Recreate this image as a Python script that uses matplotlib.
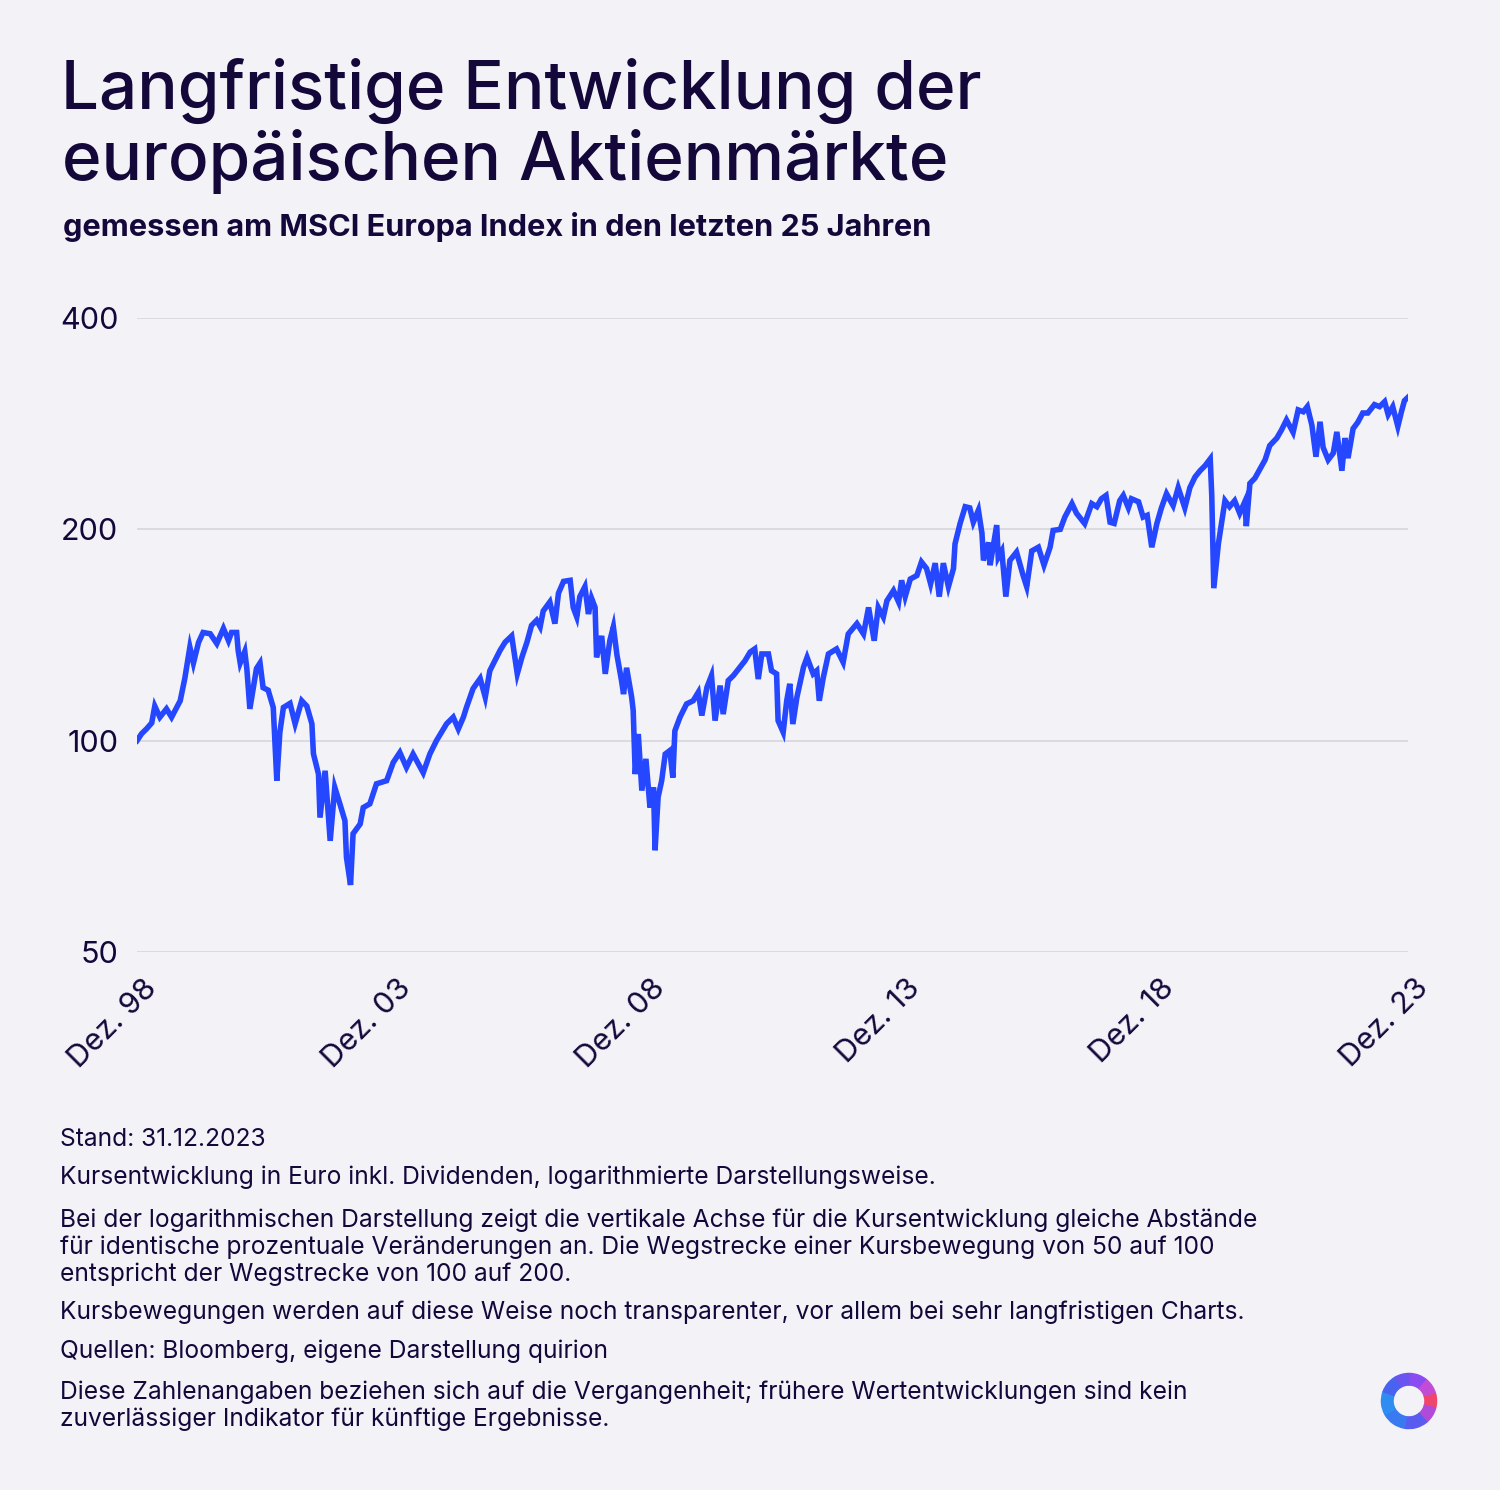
import numpy as np
import matplotlib.pyplot as plt
from matplotlib.patches import Wedge
from matplotlib.ticker import FixedLocator, NullLocator
import matplotlib.transforms as mtransforms

# MSCI Europa (Euro, inkl. Dividenden), Dez. 1998 = 100
years = [1998.92, 1999.01, 1999.11, 1999.21, 1999.27, 1999.37, 1999.50, 1999.60, 1999.77, 1999.86,
         1999.96, 2000.03, 2000.13, 2000.22, 2000.36, 2000.49, 2000.62, 2000.72, 2000.78, 2000.88,
         2000.91, 2000.95, 2001.04, 2001.08, 2001.14, 2001.27, 2001.34, 2001.40, 2001.50, 2001.60,
         2001.67, 2001.73, 2001.80, 2001.93, 2002.03, 2002.16, 2002.26, 2002.36, 2002.39, 2002.49,
         2002.52, 2002.62, 2002.72, 2002.81, 2002.91, 2003.01, 2003.04, 2003.12, 2003.17, 2003.31,
         2003.37, 2003.50, 2003.63, 2003.83, 2003.96, 2004.09, 2004.22, 2004.35, 2004.55, 2004.68,
         2004.81, 2005.01, 2005.14, 2005.24, 2005.34, 2005.40, 2005.53, 2005.67, 2005.77, 2005.86,
         2005.96, 2006.06, 2006.16, 2006.29, 2006.40, 2006.49, 2006.59, 2006.68, 2006.78, 2006.85,
         2006.91, 2007.04, 2007.14, 2007.21, 2007.31, 2007.44, 2007.50, 2007.57, 2007.63, 2007.73,
         2007.80, 2007.86, 2007.93, 2007.96, 2008.06, 2008.13, 2008.22, 2008.29, 2008.36, 2008.45,
         2008.49, 2008.55, 2008.65, 2008.68, 2008.72, 2008.78, 2008.85, 2008.93, 2009.01, 2009.08,
         2009.11, 2009.17, 2009.24, 2009.31, 2009.40, 2009.46, 2009.50, 2009.60, 2009.73, 2009.86,
         2009.96, 2010.03, 2010.13, 2010.22, 2010.29, 2010.39, 2010.45, 2010.55, 2010.65, 2010.78,
         2010.88, 2010.98, 2011.07, 2011.14, 2011.21, 2011.34, 2011.40, 2011.50, 2011.53, 2011.63,
         2011.70, 2011.76, 2011.82, 2011.90, 2012.03, 2012.10, 2012.22, 2012.29, 2012.34, 2012.42,
         2012.52, 2012.68, 2012.81, 2012.91, 2013.08, 2013.21, 2013.31, 2013.42, 2013.50, 2013.60,
         2013.67, 2013.80, 2013.90, 2013.96, 2014.03, 2014.13, 2014.26, 2014.35, 2014.45, 2014.53,
         2014.62, 2014.70, 2014.78, 2014.88, 2014.98, 2015.01, 2015.11, 2015.21, 2015.30, 2015.37,
         2015.47, 2015.54, 2015.57, 2015.67, 2015.70, 2015.83, 2015.86, 2015.93, 2016.01, 2016.09,
         2016.22, 2016.35, 2016.42, 2016.52, 2016.65, 2016.76, 2016.88, 2016.94, 2017.08, 2017.17,
         2017.31, 2017.40, 2017.56, 2017.70, 2017.80, 2017.89, 2017.98, 2018.06, 2018.14, 2018.25,
         2018.32, 2018.42, 2018.48, 2018.62, 2018.71, 2018.79, 2018.88, 2018.98, 2019.07, 2019.17,
         2019.30, 2019.40, 2019.53, 2019.63, 2019.73, 2019.83, 2019.93, 2020.03, 2020.06, 2020.10,
         2020.19, 2020.25, 2020.32, 2020.41, 2020.51, 2020.61, 2020.71, 2020.74, 2020.81, 2020.91,
         2021.01, 2021.11, 2021.20, 2021.34, 2021.43, 2021.53, 2021.66, 2021.76, 2021.86, 2021.94,
         2022.03, 2022.11, 2022.19, 2022.25, 2022.35, 2022.45, 2022.52, 2022.62, 2022.68, 2022.74,
         2022.84, 2022.93, 2023.03, 2023.13, 2023.26, 2023.36, 2023.46, 2023.53, 2023.62, 2023.72,
         2023.79, 2023.85, 2023.92]
index = [100, 102.3, 104, 106, 112, 108, 111, 108, 114, 122.6,
         135.9, 129, 138, 142.6, 142, 137.5, 144.5, 138.8, 142.6, 142.6,
         134.4, 129, 134, 126.7, 111, 126.7, 129, 119, 118, 111.5,
         87.7, 102.8, 111.5, 113, 105.7, 114, 112, 105.7, 95.8, 89.6,
         77.7, 90.6, 72, 85.8, 81.3, 76.9, 68.2, 62.3, 73.7, 76.1,
         80.3, 81.3, 86.8, 87.7, 93.1, 96.2, 91.6, 95.7, 90, 95.7,
         100, 105.7, 108, 103.9, 108, 111.5, 118.6, 122.6, 115.3, 125.8,
         130, 134.4, 138.1, 141, 124.5, 131.4, 138.1, 145.9, 148.4, 145.3,
         153, 157.6, 146.8, 162.2, 168.6, 169.2, 154.8, 150, 160.4, 165.7,
         151.5, 159.6, 154.8, 131.4, 141, 124.5, 138.8, 145.3, 132.5, 121.8,
         116.5, 127, 115.3, 110.4, 89.6, 102.2, 84.9, 94.2, 80.3, 85.8,
         69.8, 83.1, 87.7, 95.7, 96.8, 88.6, 103.3, 108, 112.8, 114,
         117.2, 108.6, 119.1, 123.8, 106.8, 119.8, 109.1, 121.8, 123.8, 127.3,
         130, 133.7, 135.1, 122.4, 132.9, 132.9, 125.8, 124.5, 106.8, 102.8,
         114, 120.5, 105.6, 115.3, 127.3, 131.4, 124.5, 125.8, 114, 123.1,
         132.9, 135.1, 129.3, 141.9, 146.8, 141.9, 154.8, 138.8, 154.8, 150,
         158.2, 163.6, 157.6, 169.2, 160.4, 169.9, 171.9, 179.7, 175.9, 167.3,
         179, 160.4, 179, 165.7, 175.9, 190.7, 203.9, 215.4, 214.6, 204.7,
         213, 197.4, 180.6, 191.6, 177.8, 202.8, 182.4, 186.3, 160.4, 180.6,
         185.6, 171.9, 165.7, 186.3, 188.6, 177.8, 188.6, 199.3, 200, 208.2,
         217.6, 210.8, 203.8, 217.6, 215.4, 221.1, 223.5, 204.7, 203.9, 219.7,
         223.5, 214.6, 221.1, 218.9, 208.2, 209.4, 188.6, 203.8, 214.6, 224.8,
         216.2, 229.3, 214.6, 229.3, 237.4, 242.4, 246.5, 252, 223.5, 164.9,
         190.7, 203.8, 219.7, 215.4, 219.7, 210.8, 218.9, 202.1, 232.5, 236.6,
         243.8, 251.3, 263.2, 269.8, 276.9, 286.3, 274.9, 295.9, 294.1, 299.1,
         281.3, 253.8, 284.6, 261.7, 251.2, 256.8, 275.3, 242.4, 269.8, 252.6,
         278.3, 283.9, 292.9, 292.9, 301.1, 299.1, 304, 291.4, 299, 280.3,
         294, 305, 308.4]

x_ticks = [1998.92, 2003.92, 2008.92, 2013.92, 2018.92, 2023.92]
x_labels = ["Dez. 98", "Dez. 03", "Dez. 08", "Dez. 13", "Dez. 18", "Dez. 23"]
y_ticks = [50, 100, 200, 400]

notes = [
    "Stand: 31.12.2023",
    "Kursentwicklung in Euro inkl. Dividenden, logarithmierte Darstellungsweise.",
    "Bei der logarithmischen Darstellung zeigt die vertikale Achse für die Kursentwicklung gleiche Abstände\n"
    "für identische prozentuale Veränderungen an. Die Wegstrecke einer Kursbewegung von 50 auf 100\n"
    "entspricht der Wegstrecke von 100 auf 200.",
    "Kursbewegungen werden auf diese Weise noch transparenter, vor allem bei sehr langfristigen Charts.",
    "Quellen: Bloomberg, eigene Darstellung quirion",
    "Diese Zahlenangaben beziehen sich auf die Vergangenheit; frühere Wertentwicklungen sind kein\n"
    "zuverlässiger Indikator für künftige Ergebnisse.",
]
# baseline of the last line of each note, in pixels from the top
note_base = [1146, 1184, 1281, 1319, 1358, 1426]

BG = "#f3f2f7"
INK = "#14073a"
BLUE = "#2447ff"
FONT = ["Inter", "DejaVu Sans"]

W, H = 1500, 1490
fig = plt.figure(figsize=(15, 14.9), dpi=100, facecolor=BG)

def fy(py):
    return 1 - py / H

fig.text(61 / W, fy(109), "Langfristige Entwicklung der", fontsize=48.5, color=INK,
         family=FONT, weight="medium", va="baseline")
fig.text(62 / W, fy(180), "europäischen Aktienmärkte", fontsize=48.5, color=INK,
         family=FONT, weight="medium", va="baseline")
fig.text(63 / W, fy(236), "gemessen am MSCI Europa Index in den letzten 25 Jahren", fontsize=22.1,
         color=INK, family=FONT, weight="bold", va="baseline")

ax = fig.add_axes([137 / W, fy(952), (1408 - 137) / W, (952 - 318) / H])
ax.set_facecolor(BG)
ax.plot(years, index, color=BLUE, lw=4, solid_joinstyle="miter", zorder=3)

ax.set_yscale("log")
ax.set_ylim(50, 400)
ax.set_xlim(x_ticks[0], x_ticks[-1])
ax.yaxis.set_major_locator(FixedLocator(y_ticks))
ax.yaxis.set_minor_locator(NullLocator())
ax.set_yticklabels([str(v) for v in y_ticks])
ax.set_xticks(x_ticks)
ax.set_xticklabels(x_labels)
ax.grid(axis="y", color="#d9d8de", lw=1.3)
ax.set_axisbelow(True)
for s in ax.spines.values():
    s.set_visible(False)
ax.tick_params(axis="both", length=0, labelsize=22, labelcolor=INK)
ax.tick_params(axis="y", pad=13.5)
for lab in ax.get_yticklabels():
    lab.set_family(FONT)
offset = mtransforms.ScaledTranslation(0.06, -0.17, fig.dpi_scale_trans)
for lab in ax.get_xticklabels():
    lab.set_family(FONT)
    lab.set_rotation(45)
    lab.set_ha("right")
    lab.set_va("top")
    lab.set_rotation_mode("anchor")
    lab.set_transform(lab.get_transform() + offset)

for txt, py in zip(notes, note_base):
    fig.text(60 / W, fy(py), txt, fontsize=17.7, color=INK, family=FONT,
             va="baseline", linespacing=1.2)

# logo ring
lax = fig.add_axes([1380 / W, fy(1430), 58 / W, 58 / H])
lax.set_xlim(-1, 1)
lax.set_ylim(-1, 1)
lax.set_aspect("equal")
lax.axis("off")
ring = [(0, "#8a4cf0"), (40, "#c24cd6"), (75, "#f0466e"), (105, "#b04ad8"),
        (140, "#5a5cf0"), (190, "#3a7af0"), (240, "#2f8cf0"), (290, "#4a62f0"), (330, "#6a54f0"),
        (360, None)]
for (a0, c0), (a1, _) in zip(ring[:-1], ring[1:]):
    lax.add_patch(Wedge((0, 0), 0.95, 90 - a1, 90 - a0, width=0.4, color=c0))

fig.savefig("out.png", dpi=100, facecolor=BG)
